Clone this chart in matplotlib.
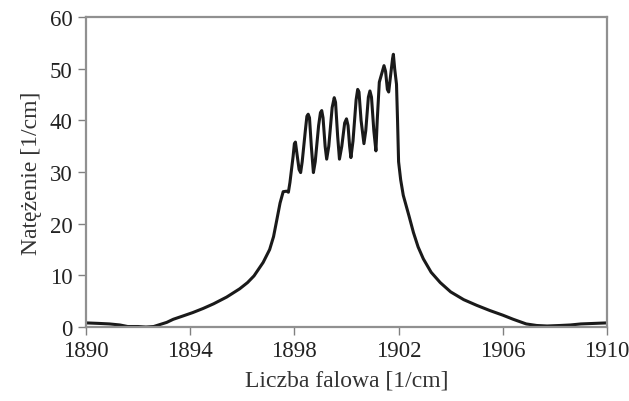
import matplotlib
matplotlib.use("Agg")
import matplotlib.pyplot as plt

plt.rcParams['font.family'] = ['Liberation Serif', 'DejaVu Serif']

# wave number [1/cm] and intensity [1/cm]
wavenumber = [1890.0, 1890.5, 1890.9, 1891.3, 1891.6, 1892.0, 1892.3, 1892.6, 1892.85,
              1893.1, 1893.35, 1893.7, 1894.1, 1894.5, 1894.9, 1895.4, 1895.9, 1896.2,
              1896.45, 1896.8, 1897.05, 1897.2, 1897.32, 1897.45, 1897.57, 1897.7,
              1897.77, 1897.83, 1897.95, 1898.0, 1898.04, 1898.1, 1898.18, 1898.24,
              1898.3, 1898.42, 1898.48, 1898.53, 1898.58, 1898.65, 1898.73,
              1898.8, 1898.93, 1899.0, 1899.05, 1899.1, 1899.18, 1899.24,
              1899.32, 1899.45, 1899.53, 1899.58, 1899.66, 1899.73,
              1899.82, 1899.93, 1900.0, 1900.06, 1900.12, 1900.17,
              1900.25, 1900.37, 1900.43, 1900.48, 1900.56, 1900.67,
              1900.74, 1900.84, 1900.9, 1900.96, 1901.05, 1901.13,
              1901.18, 1901.26, 1901.35, 1901.44, 1901.5, 1901.57, 1901.62,
              1901.7, 1901.77, 1901.8, 1901.85, 1901.92, 1901.96, 1902.0,
              1902.08, 1902.18, 1902.4, 1902.57, 1902.75, 1902.95, 1903.25,
              1903.6, 1904.0, 1904.5, 1905.0, 1905.5, 1906.0, 1906.4, 1906.9,
              1907.3, 1907.7, 1908.2, 1908.6, 1909.0, 1909.5, 1910.0]
intensity = [0.8, 0.7, 0.6, 0.4, 0.1, 0.1, 0.0, 0.1, 0.5,
             0.9, 1.5, 2.1, 2.8, 3.6, 4.5, 5.8, 7.4, 8.6,
             9.9, 12.5, 15.0, 17.5, 20.6, 24.0, 26.2, 26.3,
             26.1, 28.0, 33.0, 35.5, 35.8, 33.5, 30.5, 29.9,
             32.0, 38.0, 40.8, 41.2, 40.5, 35.0, 29.9,
             32.0, 39.0, 41.5, 41.9, 40.5, 35.0, 32.5,
             35.0, 42.5, 44.4, 43.5, 37.0, 32.5,
             35.0, 39.5, 40.3, 39.0, 35.0, 32.8,
             36.0, 44.0, 46.0, 45.5, 40.0, 35.5,
             38.0, 44.5, 45.7, 44.5, 38.0, 34.1,
             40.0, 47.4, 49.0, 50.6, 49.5, 46.0, 45.5,
             49.0, 52.0, 52.8, 50.0, 47.0, 40.0, 32.0,
             28.5, 25.5, 21.5, 18.3, 15.5, 13.2, 10.6,
             8.6, 6.8, 5.3, 4.2, 3.2, 2.3, 1.5, 0.6,
             0.3, 0.2, 0.3, 0.4, 0.6, 0.7, 0.8]

fig = plt.figure(figsize=(6.29, 4.02), dpi=100)
ax = fig.add_axes([0.1367, 0.184, 0.8283, 0.771])

ax.plot(wavenumber, intensity, color='#1a1a1a', linewidth=2.2)

ax.set_xlim(1890, 1910)
ax.set_ylim(0, 60)
ax.set_xticks([1890, 1894, 1898, 1902, 1906, 1910])
ax.set_yticks([0, 10, 20, 30, 40, 50, 60])
ax.tick_params(direction='out', length=6, width=1, color='#808080',
               labelsize=16.5, labelcolor='#222222')
for s in ax.spines.values():
    s.set_color('#909090')
    s.set_linewidth(1.6)

ax.set_xlabel('Liczba falowa [1/cm]', fontsize=17, color='#333333', labelpad=6)
ax.set_ylabel('Natężenie [1/cm]', fontsize=17, color='#333333', labelpad=6)

plt.savefig("out.png", dpi=100)
